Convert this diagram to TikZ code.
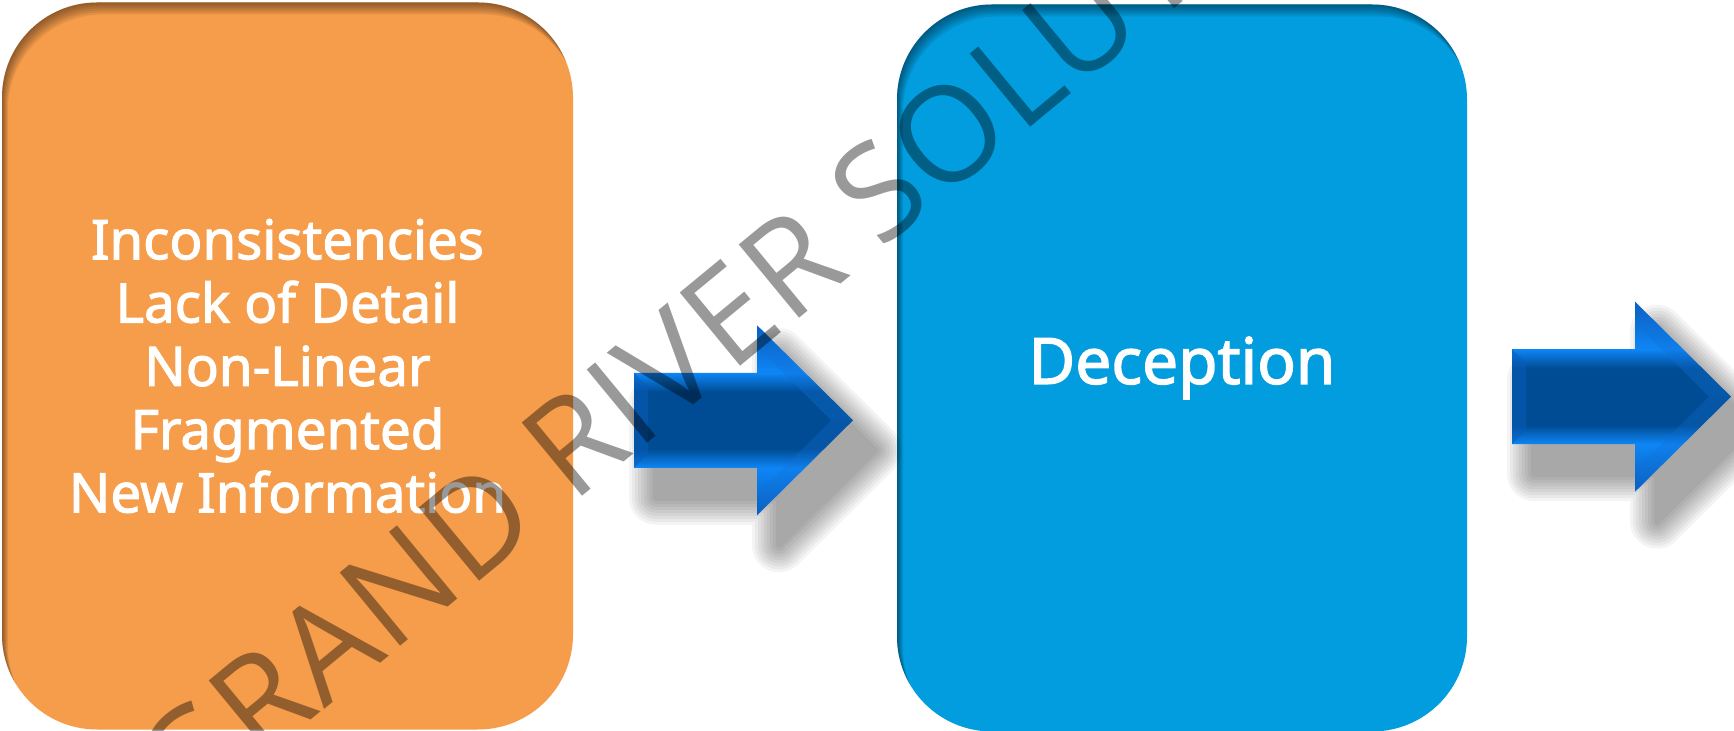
\documentclass[tikz,border=0pt]{standalone}
\usepackage{fontspec}
\setmainfont{Noto Sans}[FakeBold=2]
\newfontfamily\boxfont{Noto Sans}[FakeBold=2]
\newfontfamily\wmfont{Open Sans}[LetterSpace=1.5]
\usetikzlibrary{calc}
\definecolor{boxorange}{RGB}{246,157,75}
\definecolor{boxblue}{RGB}{2,157,222}
\definecolor{arrBright}{RGB}{14,134,246}
\definecolor{arrMid}{RGB}{8,92,186}
\definecolor{arrDark}{RGB}{0,76,148}
\definecolor{arrFacet}{RGB}{18,112,214}
\pgfdeclareverticalshading{arrowshade}{100bp}{color(0bp)=(arrMid); color(25bp)=(arrMid); color(37.5bp)=(arrBright); color(42.5bp)=(arrDark); color(57.5bp)=(arrDark); color(62.5bp)=(arrBright); color(75bp)=(arrMid); color(100bp)=(arrMid)}
\tikzset{
  panel/.style={rounded corners=47.5pt, minimum height=363.5pt, inner sep=0pt,
    text=white, align=center},
  innershadow/.style={path picture={
    \foreach \k in {2,4,6,8,10,12}{
      \fill[black, opacity=0.08, even odd rule]
        ([shift={(-30,-30)}]path picture bounding box.north west) rectangle
        ([shift={(30,30)}]path picture bounding box.south east)
        [rounded corners=47.5pt]
        ([shift={(0.5*\k,\k)}]path picture bounding box.north west) rectangle
        ([shift={(0.5*\k,\k)}]path picture bounding box.south east);
    }}},
  watermark/.style={font=\wmfont\fontsize{66.5}{66.5}\selectfont, text=black,
    text opacity=0.4, inner sep=0pt},
  arrowbody/.style={shading=arrowshade},
}
\newcommand{\ArrowOutline}[1]{($(#1)+(0,-47.5)$) -- ($(#1)+(123,-47.5)$) -- ($(#1)+(123,-95)$)
     -- ($(#1)+(219,0)$) -- ($(#1)+(123,95)$) -- ($(#1)+(123,47.5)$)
     -- ($(#1)+(0,47.5)$) -- cycle}
\newcommand{\BlueArrow}[3]{%
  \coordinate (#1) at (#2,#3);
  \coordinate (#1-shadow) at ({#2+22},{#3+30});
  \foreach \w in {6,12,18,24,30,36,42,48,54}{
    \begin{scope}[transparency group, opacity=0.045]
      \filldraw[black, line width=\w*0.5pt, line join=round] \ArrowOutline{#1-shadow};
    \end{scope}
  }
  \shade[arrowbody] \ArrowOutline{#1};
  \fill[arrMid, opacity=0.5] ($(#1)+(0,-47.5)$) -- ($(#1)+(14,-33.5)$) -- ($(#1)+(14,33.5)$) -- ($(#1)+(0,47.5)$) -- cycle;
  \fill[arrFacet, opacity=0.35] ($(#1)+(123,-95)$) -- ($(#1)+(219,0)$) -- ($(#1)+(197,0)$) -- ($(#1)+(127,-70)$) -- cycle;
  \fill[arrFacet, opacity=0.3] ($(#1)+(123,95)$) -- ($(#1)+(219,0)$) -- ($(#1)+(197,0)$) -- ($(#1)+(127,70)$) -- cycle;
}
\begin{document}
\begin{tikzpicture}[x=0.5pt,y=-0.5pt]
\useasboundingbox (0,0) rectangle (1734,731);
\fill[white] (0,0) rectangle (1734,731);
\clip (0,0) rectangle (1734,731);

\node[panel, innershadow, fill=boxorange, minimum width=285.5pt,
      font=\boxfont\fontsize{27.3}{31.65}\selectfont] (left) at (287.5,366)
  {Inconsistencies\\Lack of Detail\\Non-Linear\\Fragmented\\New Information};

\node[panel, innershadow, fill=boxblue, minimum width=285pt,
      font=\boxfont\fontsize{32}{36}\selectfont] (mid) at (1182,368) {Deception};

\BlueArrow{arrowA}{634}{420.3}
\BlueArrow{arrowB}{1512}{396.7}

\node[watermark, rotate=39.5, anchor=base west] (wm) at (183,826) {GRAND RIVER SOLUTIONS};
\end{tikzpicture}
\end{document}
